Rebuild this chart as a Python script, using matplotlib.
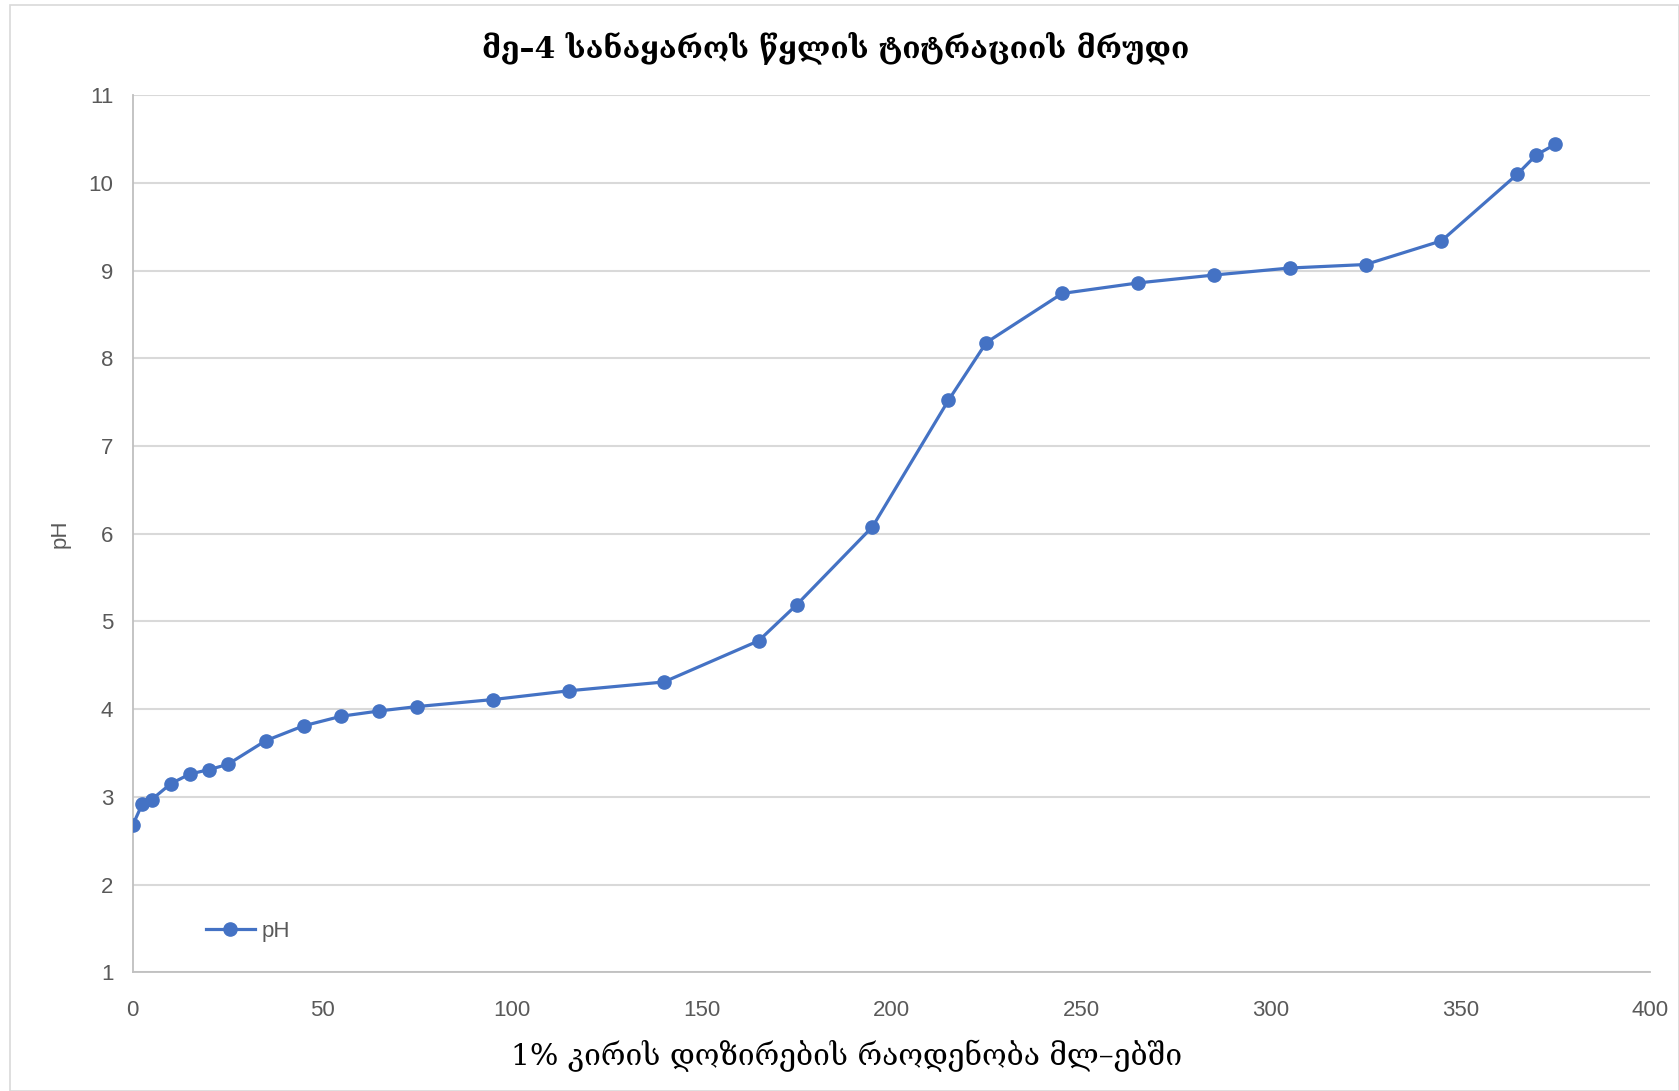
import matplotlib.pyplot as plt
from matplotlib.patches import Rectangle

# titration data
volume_ml = [0, 2.5, 5, 10, 15, 20, 25, 35, 45, 55, 65, 75, 95, 115, 140,
             165, 175, 195, 215, 225, 245, 265, 285, 305, 325, 345, 365, 370, 375]
ph_values = [2.68, 2.92, 2.97, 3.15, 3.26, 3.31, 3.37, 3.64, 3.81, 3.92, 3.98, 4.03,
             4.11, 4.21, 4.31, 4.78, 5.19, 6.08, 7.52, 8.18, 8.74, 8.86, 8.95, 9.03,
             9.07, 9.34, 10.10, 10.32, 10.44]

x_ticks = [0, 50, 100, 150, 200, 250, 300, 350, 400]
y_ticks = [1, 2, 3, 4, 5, 6, 7, 8, 9, 10, 11]

title = 'მე–4 სანაყაროს წყლის ტიტრაციის მრუდი'
x_label = '1% კირის დოზირების რაოდენობა მლ–ებში'
y_label = 'pH'
series_name = 'pH'

BLUE = '#4472C4'
GREY_TEXT = '#595959'
GRID = '#D9D9D9'

fig = plt.figure(figsize=(16.79, 10.91), dpi=100)
ax = fig.add_axes([0.0791, 0.1088, 0.9037, 0.8039])

# outer chart frame
fig.patches.append(Rectangle((0.006, 0.0), 0.994, 0.995, transform=fig.transFigure,
                             fill=False, edgecolor='#D9D9D9', linewidth=1.2))

ax.plot(volume_ml, ph_values, color=BLUE, linewidth=2.3, marker='o',
        markersize=9.5, label=series_name, zorder=3)

ax.set_xlim(0, 400)
ax.set_ylim(1, 11)
ax.set_xticks(x_ticks)
ax.set_yticks(y_ticks)
ax.tick_params(axis='x', length=0, labelsize=16, labelcolor=GREY_TEXT, pad=20)
ax.tick_params(axis='y', length=0, labelsize=16, labelcolor=GREY_TEXT, pad=14)
for lbl in ax.get_xticklabels() + ax.get_yticklabels():
    lbl.set_fontfamily('Liberation Sans')

ax.grid(axis='y', color=GRID, linewidth=1.5)
ax.set_axisbelow(True)
for side in ['top', 'right']:
    ax.spines[side].set_visible(False)
for side in ['left', 'bottom']:
    ax.spines[side].set_color('#BFBFBF')
    ax.spines[side].set_linewidth(1.3)

fig.text(0.498, 0.956, title, ha='center', va='center', fontsize=21.5,
         fontweight='bold', family=['DejaVu Serif', 'DejaVu Sans'])
fig.text(0.504, 0.032, x_label, ha='center', va='center', fontsize=21.5,
         family=['DejaVu Serif', 'DejaVu Sans'])
fig.text(0.036, 0.511, y_label, ha='center', va='center', fontsize=16,
         rotation=90, color=GREY_TEXT, family='Liberation Sans')

leg = ax.legend(loc='lower left', bbox_to_anchor=(0.035, 0.012), frameon=False,
                fontsize=16, handlelength=2.2, handletextpad=0.3)
for t in leg.get_texts():
    t.set_color(GREY_TEXT)
    t.set_fontfamily('Liberation Sans')

fig.savefig('out.png', dpi=100, facecolor='white')
